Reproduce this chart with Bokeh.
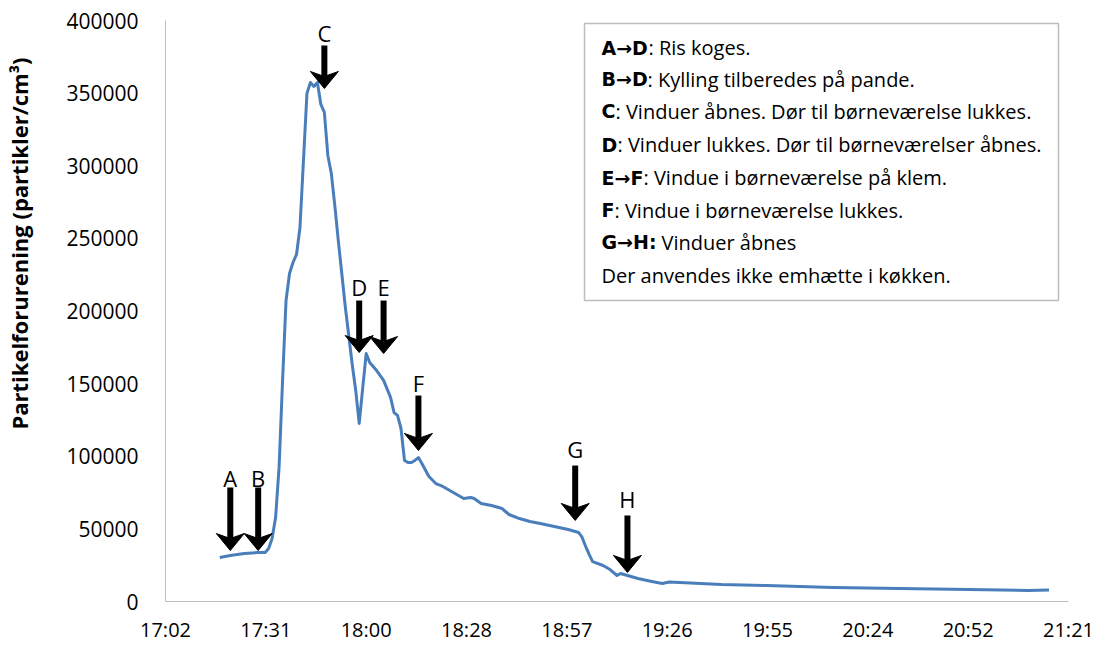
from bokeh.plotting import figure
from bokeh.models import (Range1d, FixedTicker, Title, BoxAnnotation,
                          ColumnDataSource, NumeralTickFormatter, CustomJSTickFormatter)
from bokeh.core.properties import value
from bokeh.embed import file_html
from bokeh.resources import INLINE

# ---------------- data ----------------
times = ["17:18", "17:21", "17:25", "17:29", "17:31", "17:32", "17:33", "17:34", "17:35",
         "17:36", "17:37", "17:38", "17:39", "17:40", "17:41", "17:42", "17:43", "17:44",
         "17:45", "17:46", "17:47", "17:48", "17:49", "17:50", "17:51", "17:52", "17:53",
         "17:54", "17:55", "17:56", "17:57", "17:58", "17:59", "18:00", "18:01", "18:02",
         "18:03", "18:05", "18:07", "18:08", "18:09", "18:10", "18:11", "18:12", "18:13",
         "18:14", "18:15", "18:16", "18:18", "18:20", "18:22", "18:25", "18:28", "18:30",
         "18:31", "18:33", "18:36", "18:39", "18:41", "18:44", "18:47", "18:50", "18:54",
         "18:58", "19:01", "19:02", "19:03", "19:04", "19:05", "19:08", "19:10", "19:12",
         "19:13", "19:15", "19:18", "19:22", "19:25", "19:27", "19:36", "19:42", "19:55",
         "20:14", "20:33", "20:53", "21:10", "21:16"]
particles = [30300, 31700, 33000, 33700, 33700, 36500, 43400, 57800, 92300,
             152000, 207200, 225800, 233400, 238900, 257500, 303600, 349800, 357300,
             354600, 357300, 342200, 336700, 307100, 294700, 272600, 248500, 225800,
             203100, 183100, 163200, 145300, 122600, 146700, 170700, 164600, 161800,
             159000, 152200, 140500, 130100, 128100, 119100, 97100, 95700, 95700,
             97100, 99100, 95000, 86100, 81200, 79200, 75000, 70900, 71600,
             70900, 67500, 66100, 64000, 59900, 57100, 55100, 53700, 51600,
             49600, 47500, 44100, 37900, 32400, 27500, 24800, 22000, 17900,
             19300, 17900, 15800, 13800, 12400, 13400, 12400, 11700, 11000,
             9600, 9000, 8300, 7600, 7900]

x_tick_days = [0.71, 0.73, 0.75, 0.77, 0.79, 0.81, 0.83, 0.85, 0.87, 0.89]
x_tick_labels = ["17:02", "17:31", "18:00", "18:28", "18:57", "19:26", "19:55",
                 "20:24", "20:52", "21:21"]
y_ticks = [0, 50000, 100000, 150000, 200000, 250000, 300000, 350000, 400000]

event_labels = ["A", "B", "C", "D", "E", "F", "G", "H"]
event_times = ["17:21", "17:29", "17:48", "17:58", "18:05", "18:15", "19:00", "19:15"]
arrow_top = [78500, 78500, 382800, 207200, 207200, 141800, 93600, 59200]
arrow_tip = [35100, 35100, 353200, 171400, 170700, 104000, 55800, 20000]
label_y = [84700, 84700, 391100, 216200, 216200, 150100, 105300, 70900]

note_bold = ["A\u2192D", "B\u2192D", "C", "D", "E\u2192F", "F", "G\u2192H:", ""]
note_rest = [": Ris koges.",
             ": Kylling tilberedes på pande.",
             ": Vinduer åbnes. Dør til børneværelse lukkes.",
             ": Vinduer lukkes. Dør til børneværelser åbnes.",
             ": Vindue i børneværelse på klem.",
             ": Vindue i børneværelse lukkes.",
             "Vinduer åbnes",
             "Der anvendes ikke emhætte i køkken."]
note_y = [381400, 359400, 337400, 314600, 291900, 269200, 247200, 224500]
note_offset = [47, 46, 14, 16, 42, 13, 60, 0]

y_title = "Partikelforurening (partikler/cm\u00b3)"


def to_min(s):
    h, m = s.split(":")
    return int(h) * 60 + int(m)


FONT = "Open Sans"
x0, x1 = x_tick_days[0] * 1440, x_tick_days[-1] * 1440
y0, y1 = y_ticks[0], y_ticks[-1]
FRAME_W, FRAME_H = 903.0, 581.0
PX = (x1 - x0) / FRAME_W   # data units per pixel, x
PY = (y1 - y0) / FRAME_H   # data units per pixel, y

p = figure(width=1107, height=650, x_range=Range1d(x0, x1), y_range=Range1d(y0, y1),
           output_backend="svg", toolbar_location=None,
           min_border_left=165, min_border_right=39, min_border_top=20, min_border_bottom=49)
p.xgrid.visible = False
p.ygrid.visible = False
p.outline_line_color = None
p.background_fill_color = "white"

p.xaxis.ticker = FixedTicker(ticks=[d * 1440 for d in x_tick_days])
p.xaxis.formatter = CustomJSTickFormatter(args=dict(labels=x_tick_labels),
                                          code="return labels[index];")
p.yaxis.ticker = FixedTicker(ticks=y_ticks)
p.yaxis.formatter = NumeralTickFormatter(format="0")
for ax in (p.xaxis, p.yaxis):
    ax.axis_line_color = "#bfbfbf"
    ax.axis_line_width = 1
    ax.major_tick_line_color = None
    ax.minor_tick_line_color = None
    ax.major_tick_out = 0
    ax.major_tick_in = 0
    ax.major_label_text_font = FONT
    ax.major_label_text_color = "black"
p.yaxis.major_label_text_font_size = "21px"
p.xaxis.major_label_text_font_size = "20px"
p.yaxis.major_label_standoff = 27
p.xaxis.major_label_standoff = 14
# spacer between the tick labels and the rotated title
p.yaxis.axis_label = "\u00a0"
p.yaxis.axis_label_text_font_size = "2px"
p.yaxis.axis_label_standoff = 25

# y axis title
p.add_layout(Title(text=y_title, align="right", vertical_align="bottom", offset=37, standoff=0,
                   text_font=FONT, text_font_style="bold", text_font_size="22px",
                   text_color="black"), "left")

# series
p.line([to_min(t) for t in times], particles, line_color="#4a7ebb", line_width=3,
       line_join="round")

# event arrows (shaft + flat arrow head), derived from the event arrays
ex = [to_min(t) for t in event_times]
p.segment(x0=ex, y0=arrow_top, x1=ex, y1=[t + 12 * PY for t in arrow_tip],
          line_color="black", line_width=6)
head_xs = [[x - 14 * PX, x, x + 14 * PX, x] for x in ex]
head_ys = [[t + 17 * PY, t, t + 17 * PY, t + 12 * PY] for t in arrow_tip]
p.patches(head_xs, head_ys, fill_color="black", line_color="black", line_width=1)
ev = ColumnDataSource(dict(x=ex, ly=label_y, label=event_labels))
p.text(x="x", y="ly", text="label", source=ev, text_align="center", text_baseline="middle",
       text_font=value(FONT), text_font_size="22px", text_color="black")

# note box
bx0 = x0 + (584 - 165) * PX
bx1 = x0 + (1058 - 165) * PX
p.add_layout(BoxAnnotation(left=bx0, right=bx1, top=397950, bottom=207200, level="underlay",
                           fill_color="white", fill_alpha=1, line_color="#262626",
                           line_width=1.5))
tx = x0 + (601 - 165) * PX
notes = ColumnDataSource(dict(x=[tx] * len(note_y), y=note_y, b=note_bold, r=note_rest,
                              off=note_offset))
p.text(x="x", y="y", text="b", source=notes, text_align="left", text_baseline="middle",
       text_font=value("DejaVu Sans"), text_font_style="bold", text_font_size="19px",
       text_color="black")
p.text(x="x", y="y", text="r", source=notes, x_offset="off", text_align="left",
       text_baseline="middle", text_font=value(FONT), text_font_size="20px", text_color="black")

open("out.html", "w").write(file_html(p, INLINE))
